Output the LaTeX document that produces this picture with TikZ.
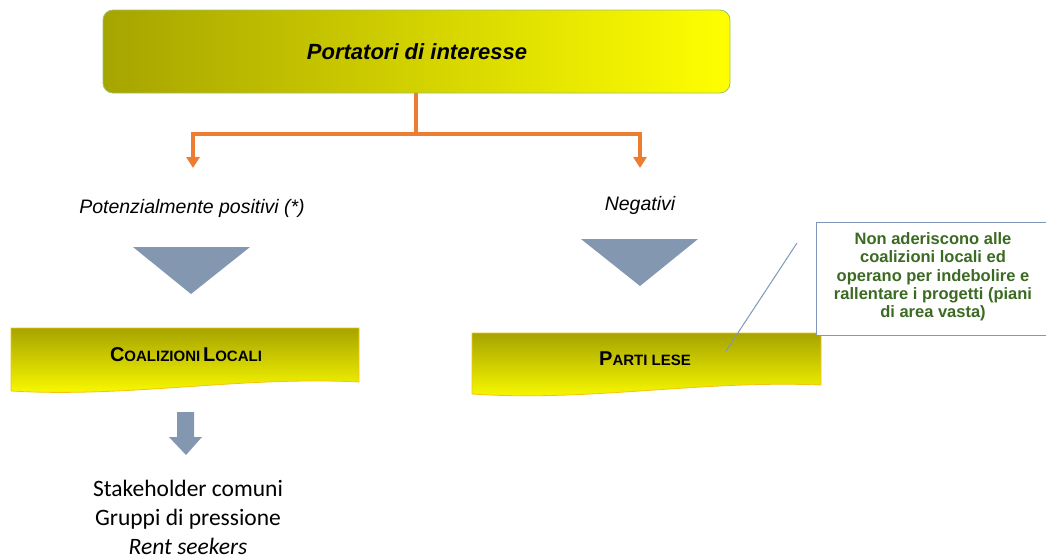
\documentclass[tikz,border=0pt]{standalone}
\usepackage{fontspec}
\setmainfont{Liberation Sans}
\newfontfamily\calib{Carlito}
\usetikzlibrary{arrows.meta}
\definecolor{olive}{HTML}{A6A400}
\definecolor{yel}{HTML}{FFFF00}
\definecolor{orng}{HTML}{ED7D31}
\definecolor{tri}{HTML}{8497B0}
\definecolor{gold}{HTML}{F2C314}
\definecolor{dgreen}{HTML}{3B6A22}
\definecolor{cbord}{HTML}{8096BA}
\definecolor{tborder}{HTML}{9BC26A}
\newcommand\BigC[1]{{\fontsize{20}{20}\selectfont #1}}
\newcommand\SmC[1]{{\fontsize{15}{15}\selectfont #1}}
\tikzset{
  conn/.style={draw=orng, line width=3.5pt, -{Triangle[width=13pt,length=11pt]}},
  tribox/.style={fill=tri, draw=none},
  lbl/.style={font=\itshape\fontsize{19.5}{22}\selectfont, inner sep=0pt},
  bantext/.style={font=\bfseries, inner sep=0pt},
}
\begin{document}
\begin{tikzpicture}[x=1pt,y=-1pt]
\useasboundingbox (0,0) rectangle (1046,558);
% top box
\shade[left color=olive, right color=yel, rounded corners=10pt] (103,10) rectangle (730,93);
\draw[tborder, line width=0.8pt, rounded corners=10pt] (103,10) rectangle (730,93);
\node[font=\bfseries\itshape\fontsize{22}{26}\selectfont] (top) at (417,52) {Portatori di interesse};
\coordinate (topb) at (416,93);
% labels
\node[lbl] (pos) at (192,208) {Potenzialmente positivi (*)};
\node[lbl] (neg) at (640,205) {Negativi};
\coordinate (al) at (193,168);
\coordinate (ar) at (640,168);
\draw[conn] (topb) -- (416,134) -| (al);
\draw[conn] (topb) -- (416,134) -| (ar);
% triangles
\fill[tribox] (133,247) -- (250,247) -- (191,294) -- cycle;
\fill[tribox] (581,239) -- (698,239) -- (640,286) -- cycle;
% banners
\shade[top color=olive, bottom color=yel]
  (11,328) -- (359,328) -- (359,382) .. controls (240,376) and (130,398) .. (11,391) -- cycle;
\draw[gold, line width=0.8pt]
  (11,328) -- (359,328) -- (359,382) .. controls (240,376) and (130,398) .. (11,391) -- cycle;
\node[bantext] (coal) at (186,355) {\BigC{C}\SmC{OALIZIONI} \BigC{L}\SmC{OCALI}};
\shade[top color=olive, bottom color=yel]
  (472,333) -- (821,333) -- (821,385) .. controls (700,380) and (590,402) .. (472,394) -- cycle;
\draw[gold, line width=0.8pt]
  (472,333) -- (821,333) -- (821,385) .. controls (700,380) and (590,402) .. (472,394) -- cycle;
\node[bantext] (parti) at (645,359) {\BigC{P}\SmC{ARTI LESE}};
% callout
\node[draw=cbord, line width=1pt, fill=white, minimum width=230pt, minimum height=113pt, inner sep=0pt,
  anchor=north west] (call) at (816,222) {};
\node[font=\bfseries\fontsize{16.5}{18.3}\selectfont, text=dgreen, align=center] (calltxt) at (933,277)
  {Non aderiscono alle\\coalizioni locali ed\\operano per indebolire e\\rallentare i progetti (piani\\di area vasta)};
\coordinate (c1) at (797,243);
\coordinate (c2) at (726,351);
\draw[cbord, line width=1pt] (c1) -- (c2);
% down arrow
\fill[tribox] (177,412) -- (194,412) -- (194,437) -- (202,437) -- (186,455) -- (169,437) -- (177,437) -- cycle;
% bottom text
\node[font=\calib\fontsize{23.5}{29}\selectfont, align=center, inner sep=0pt] (list) at (188,517)
  {Stakeholder comuni\\Gruppi di pressione\\\itshape Rent seekers};
\end{tikzpicture}
\end{document}
